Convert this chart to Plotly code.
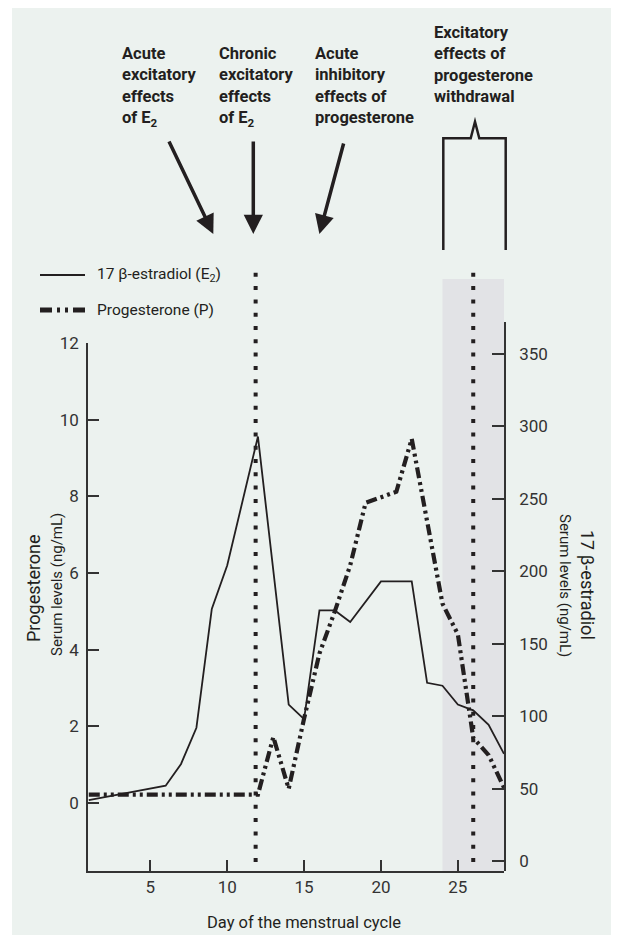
import plotly.graph_objects as go

# ---------------- data ----------------
e2_days = [1, 6, 7, 8, 9, 10, 12, 14, 15, 16, 17, 18, 20, 22, 23, 24, 25, 26, 27, 28]
e2_vals = [42, 52, 67, 92, 174, 204, 293, 108, 98, 173, 173, 165, 193, 193, 123, 121, 108, 104, 94, 74]

p_days = [1, 12, 13, 14, 15, 16, 17, 18, 19, 20, 21, 22, 23, 24, 25, 26, 27, 28]
p_vals = [0.22, 0.22, 1.72, 0.37, 2.2, 3.9, 5.0, 6.2, 7.83, 7.97, 8.12, 9.5, 7.4, 5.2, 4.4, 1.7, 1.25, 0.4]

x_ticks = [5, 10, 15, 20, 25]
p_ticks = [0, 2, 4, 6, 8, 10, 12]
e2_ticks = [0, 50, 100, 150, 200, 250, 300, 350]

marker_days = [11.85, 26]          # vertical dotted lines
withdrawal_window = [24, 28]       # shaded region

top_labels = [
    "Acute<br>excitatory<br>effects<br>of E<sub>2</sub>",
    "Chronic<br>excitatory<br>effects<br>of E<sub>2</sub>",
    "Acute<br>inhibitory<br>effects of<br>progesterone",
    "Excitatory<br>effects of<br>progesterone<br>withdrawal",
]
legend_labels = ["17 β-estradiol (E<sub>2</sub>)", "Progesterone (P)"]

# ---------------- layout geometry ----------------
# the page body adds an 8px margin, so the figure is drawn 8px smaller
OFF = 8
W_FIG, H_FIG = 619 - OFF, 935 - OFF
L, R, T, B = 88, 504, 322, 871       # plot area in page pixels
PW, PH = R - L, B - T

def px(p):
    return (p - L) / PW

def py(p):
    return (B - p) / PH

INK = "#231F20"
AX = "#333333"
BG = "#ECF2EF"
SHADE = "#E2E3E6"
FONT = "Roboto"
P_DASH = "11px,4px,3px,4px,3px,4px"

fig = go.Figure()

fig.add_trace(go.Scatter(
    x=e2_days, y=e2_vals, mode="lines", yaxis="y2",
    line=dict(color=INK, width=1.8), showlegend=False, hoverinfo="skip"))
fig.add_trace(go.Scatter(
    x=p_days, y=p_vals, mode="lines", yaxis="y",
    line=dict(color=INK, width=4.2, dash=P_DASH), showlegend=False, hoverinfo="skip"))

shapes = []
# background panel
shapes.append(dict(type="rect", xref="paper", yref="paper",
                   x0=px(12), x1=px(640), y0=py(960), y1=py(5),
                   fillcolor=BG, line=dict(width=0), layer="below"))
# shaded withdrawal window
shapes.append(dict(type="rect", xref="x", yref="paper",
                   x0=withdrawal_window[0], x1=withdrawal_window[1],
                   y0=0, y1=py(279), fillcolor=SHADE, line=dict(width=0), layer="below"))
# dotted vertical lines
for d in marker_days:
    shapes.append(dict(type="line", xref="x", yref="paper", x0=d, x1=d,
                       y0=py(862), y1=py(269),
                       line=dict(color=INK, width=4, dash="4px,9.3px")))
# bracket
pts = [(443.3, 250), (443.3, 138.3), (470.7, 138.3), (475, 121.7),
       (479.3, 138.3), (505.7, 138.3), (505.7, 250)]
path = "M " + " L ".join(f"{px(a):.5f},{py(b):.5f}" for a, b in pts)
shapes.append(dict(type="path", xref="paper", yref="paper", path=path,
                   line=dict(color=INK, width=2.5)))
# legend samples
shapes.append(dict(type="line", xref="paper", yref="paper",
                   x0=px(40), x1=px(85), y0=py(275), y1=py(275),
                   line=dict(color=INK, width=2)))
shapes.append(dict(type="line", xref="paper", yref="paper",
                   x0=px(40), x1=px(85), y0=py(310), y1=py(310),
                   line=dict(color=INK, width=5, dash="12px,5px,3px,5px,3px,5px")))

ann = []
# top labels
for txt, (lx, ty) in zip(top_labels, [(120, 42), (217, 42), (313, 42), (432, 21)]):
    ann.append(dict(text=txt, xref="paper", yref="paper", x=px(lx), y=py(ty),
                    xanchor="left", yanchor="top", align="left", showarrow=False,
                    font=dict(family=FONT, size=16.5, color=INK, weight="bold")))
# arrows (tip, tail)
for (tx, ty), (sx, sy) in [((213.3, 234), (168.3, 140)),
                           ((253.3, 234), (253.3, 140)),
                           ((319.4, 234), (344, 142))]:
    ann.append(dict(text="", xref="paper", yref="paper", x=px(tx), y=py(ty),
                    ax=sx - tx, ay=sy - ty, showarrow=True, arrowhead=2,
                    arrowsize=1.1, arrowwidth=3.5, arrowcolor=INK, standoff=0))
# legend texts
for txt, yy in zip(legend_labels, [275, 310]):
    ann.append(dict(text=txt, xref="paper", yref="paper", x=px(95), y=py(yy),
                    xanchor="left", yanchor="middle", showarrow=False,
                    font=dict(family=FONT, size=15.5, color=INK)))
# axis titles
ann.append(dict(text="Progesterone", xref="paper", yref="paper", x=px(33), y=py(588),
                textangle=-90, showarrow=False, xanchor="center", yanchor="middle",
                font=dict(family=FONT, size=18, color=INK)))
ann.append(dict(text="Serum levels (ng/mL)", xref="paper", yref="paper", x=px(57), y=py(585),
                textangle=-90, showarrow=False, xanchor="center", yanchor="middle",
                font=dict(family=FONT, size=15, color=INK)))
ann.append(dict(text="17 β-estradiol", xref="paper", yref="paper", x=px(588), y=py(585),
                textangle=90, showarrow=False, xanchor="center", yanchor="middle",
                font=dict(family=FONT, size=18, color=INK)))
ann.append(dict(text="Serum levels (ng/mL)", xref="paper", yref="paper", x=px(565), y=py(585),
                textangle=90, showarrow=False, xanchor="center", yanchor="middle",
                font=dict(family=FONT, size=15, color=INK)))
ann.append(dict(text="Day of the menstrual cycle", xref="paper", yref="paper",
                x=px(304), y=py(922), showarrow=False, xanchor="center", yanchor="middle",
                font=dict(family=FONT, size=16.5, color=INK)))

tickfont = dict(family=FONT, size=17, color=AX)
fig.update_layout(
    width=W_FIG, height=H_FIG,
    margin=dict(l=L - OFF, r=W_FIG - (R - OFF), t=T - OFF, b=H_FIG - (B - OFF), pad=0),
    paper_bgcolor="white", plot_bgcolor="rgba(0,0,0,0)",
    showlegend=False,
    shapes=shapes, annotations=ann,
    xaxis=dict(range=[0.95, 28], tickvals=x_ticks, ticks="inside", ticklen=11,
               tickwidth=1.5, tickcolor=AX, showline=True, linecolor=AX, linewidth=1.5,
               showgrid=False, zeroline=False, tickfont=tickfont, anchor="y"),
    yaxis=dict(domain=[0, py(343)], range=[-1.775, 12], tickvals=p_ticks,
               ticks="inside", ticklen=11, tickwidth=1.5, tickcolor=AX,
               showline=True, linecolor=AX, linewidth=1.5, showgrid=False,
               zeroline=False, tickfont=tickfont, ticklabelstandoff=4, anchor="x"),
    yaxis2=dict(domain=[0, 1], range=[-6.9, 372.1], tickvals=e2_ticks, side="right",
                anchor="x", ticks="inside", ticklen=12, tickwidth=1.5, tickcolor=AX,
                showline=True, linecolor=AX, linewidth=1.5, showgrid=False,
                zeroline=False, tickfont=tickfont, ticklabelstandoff=10),
)

fig.write_html("out.html")
